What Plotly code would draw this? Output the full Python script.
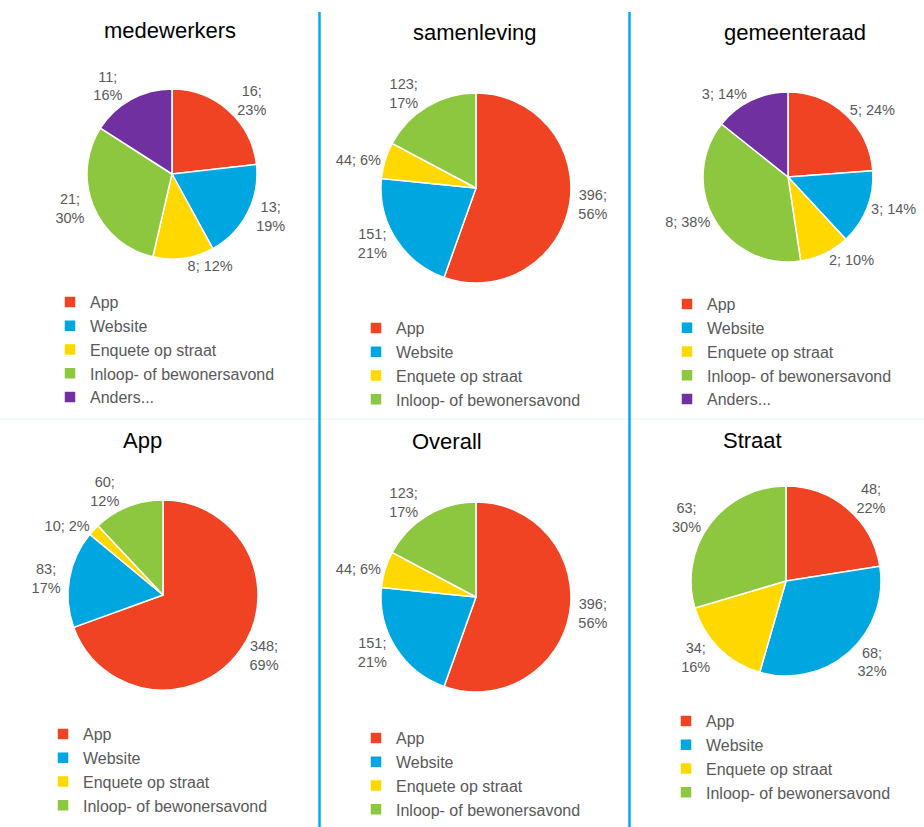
import plotly.graph_objects as go

W, H = 924, 827

# categories
categories_5 = ["App", "Website", "Enquete op straat", "Inloop- of bewonersavond", "Anders..."]
categories_4 = categories_5[:4]

# values per panel
medewerkers = [16, 13, 8, 21, 11]
samenleving = [396, 151, 44, 123]
gemeenteraad = [5, 3, 2, 8, 3]
app = [348, 83, 10, 60]
overall = [396, 151, 44, 123]
straat = [48, 68, 34, 63]

# percentages as printed on the original labels
pct_medewerkers = [23, 19, 12, 30, 16]
pct_samenleving = [56, 21, 6, 17]
pct_gemeenteraad = [24, 14, 10, 38, 14]
pct_app = [69, 17, 2, 12]
pct_overall = [56, 21, 6, 17]
pct_straat = [22, 32, 16, 30]

titles = ["medewerkers", "samenleving", "gemeenteraad", "App", "Overall", "Straat"]

colors = ["#EF4324", "#00A6E0", "#FFD800", "#8DC63F", "#7030A0"]

# label separators (single line vs two lines, as in the original)
seps = [
    ["<br>", "<br>", " ", "<br>", "<br>"],
    ["<br>", "<br>", " ", "<br>"],
    [" ", " ", " ", " ", " "],
    ["<br>", "<br>", " ", "<br>"],
    ["<br>", "<br>", " ", "<br>"],
    ["<br>", "<br>", "<br>", "<br>"],
]

# layout of each panel in pixels: pie centre, radius, title pos, legend pos
panels = [
    dict(cx=172, cy=174, r=85, tx=170, ty=30, lx=50, ly=285),
    dict(cx=476, cy=188, r=95, tx=475, ty=32, lx=356, ly=311),
    dict(cx=788, cy=177, r=85, tx=795, ty=32, lx=667, ly=287),
    dict(cx=163, cy=595, r=95, tx=142, ty=440, lx=43, ly=717),
    dict(cx=476, cy=597, r=95, tx=447, ty=441, lx=356, ly=721),
    dict(cx=786, cy=581, r=95, tx=752, ty=440, lx=666, ly=704),
]

data = [medewerkers, samenleving, gemeenteraad, app, overall, straat]
pcts = [pct_medewerkers, pct_samenleving, pct_gemeenteraad, pct_app, pct_overall, pct_straat]

FONT = "Liberation Sans, Arial"
fig = go.Figure()
annotations = []
layout_legends = {}

for i, (vals, p) in enumerate(zip(data, panels)):
    cats = categories_5 if len(vals) == 5 else categories_4
    text = [f"{v};{s}{pc}%" for v, s, pc in zip(vals, seps[i], pcts[i])]
    lname = "legend" if i == 0 else f"legend{i + 1}"
    fig.add_trace(go.Pie(
        labels=cats,
        values=vals,
        sort=False,
        direction="clockwise",
        rotation=0,
        marker=dict(colors=colors[:len(vals)], line=dict(color="white", width=1.5)),
        text=text,
        textinfo="text",
        textposition="outside",
        textfont=dict(size=14.5, color="#595959", family=FONT),
        hovertemplate="%{label}: %{value}<extra></extra>",
        domain=dict(
            x=[(p["cx"] - p["r"]) / W, (p["cx"] + p["r"]) / W],
            y=[1 - (p["cy"] + p["r"]) / H, 1 - (p["cy"] - p["r"]) / H],
        ),
        legend=lname,
        legendgroup=f"g{i}",
        showlegend=True,
    ))
    annotations.append(dict(
        text=titles[i], x=p["tx"] / W, y=1 - p["ty"] / H,
        xref="paper", yref="paper", xanchor="center", yanchor="middle",
        showarrow=False, font=dict(size=22, color="black", family=FONT),
    ))
    layout_legends[lname] = dict(
        x=p["lx"] / W, y=1 - p["ly"] / H, xanchor="left", yanchor="top",
        font=dict(size=16, color="#595959", family=FONT),
        bgcolor="rgba(0,0,0,0)", itemclick=False, itemdoubleclick=False,
    )

shapes = [
    dict(type="line", xref="paper", yref="paper", x0=0, x1=1,
         y0=1 - 419 / H, y1=1 - 419 / H, line=dict(color="#E6F2F7", width=1)),
    dict(type="line", xref="paper", yref="paper", x0=319.5 / W, x1=319.5 / W,
         y0=0, y1=1 - 12 / H, line=dict(color="#00AEEF", width=2.5)),
    dict(type="line", xref="paper", yref="paper", x0=629.5 / W, x1=629.5 / W,
         y0=0, y1=1 - 12 / H, line=dict(color="#00AEEF", width=2.5)),
]

fig.update_layout(
    width=W, height=H,
    margin=dict(l=0, r=0, t=0, b=0),
    paper_bgcolor="white",
    plot_bgcolor="white",
    annotations=annotations,
    shapes=shapes,
    **layout_legends,
)

fig.write_html("out.html", config={"displayModeBar": False},
               post_script="document.body.style.margin='0';")
